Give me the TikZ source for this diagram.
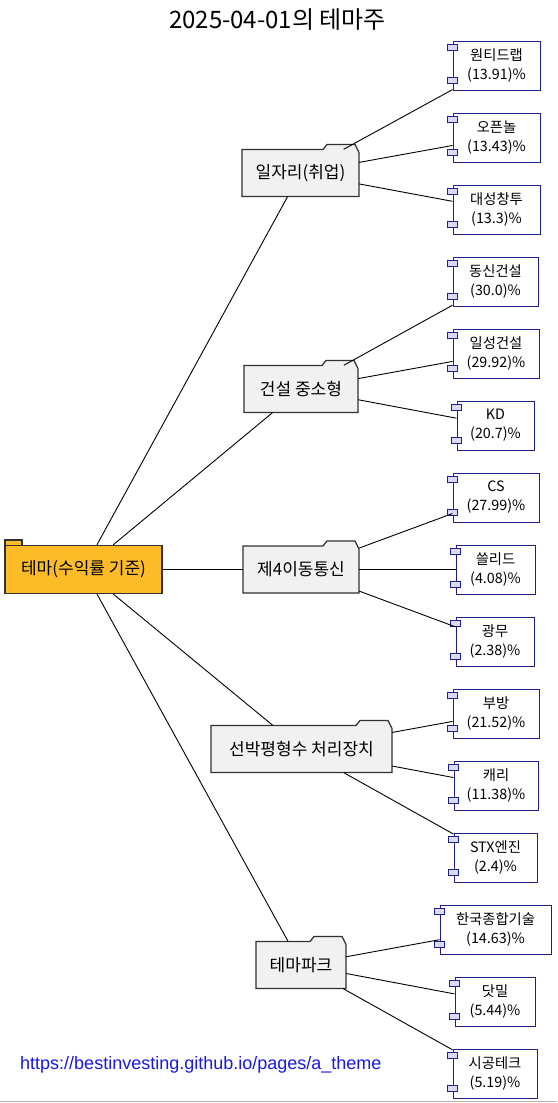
\documentclass[tikz,border=0pt]{standalone}
\usepackage{fontspec}
\setmainfont{Noto Sans CJK KR}
\newfontfamily\urlfont{Liberation Sans}
\definecolor{rootfill}{RGB}{251,188,40}
\definecolor{midfill}{RGB}{241,241,241}
\definecolor{midline}{RGB}{50,50,50}
\definecolor{leafline}{RGB}{30,30,140}
\definecolor{portfill}{RGB}{218,218,240}
\definecolor{urlblue}{RGB}{25,25,225}
\tikzset{
  folderline/.style={draw=midline, fill=midfill, line width=1.3pt, line join=miter},
  foldertext/.style={draw=none, inner sep=0pt, font=\fontsize{17}{20}\selectfont},
  rootbox/.style={draw=midline, fill=rootfill, line width=1.3pt, inner sep=0pt, minimum width=157pt, minimum height=48pt, font=\fontsize{17}{20}\selectfont},
  leaf/.style={draw=leafline, fill=white, line width=1pt, inner sep=0pt, minimum height=49pt, align=center, font=\fontsize{14.3}{19}\selectfont},
  port/.style={draw=leafline, fill=portfill, line width=1pt},
  link/.style={draw=black, line width=0.9pt},
  titletext/.style={font=\fontsize{24}{28}\selectfont, inner sep=0pt},
  urltext/.style={font=\urlfont\fontsize{18}{22}\selectfont, text=urlblue, inner sep=0pt, anchor=base west}
}
\newcommand\folderbox[6]{%
  \pgfmathsetmacro\fl{#2-#4/2}\pgfmathsetmacro\fr{#2+#4/2}%
  \pgfmathsetmacro\ft{#3-#5/2}\pgfmathsetmacro\fb{#3+#5/2}%
  \filldraw[folderline] (\fl,\fb) -- (\fl,\ft) -- (\fr-36,\ft) -- (\fr-32,\ft-5) -- (\fr-4,\ft-5) -- (\fr,\ft+3) -- (\fr,\fb) -- cycle;
  \node[foldertext, minimum width=#4pt, minimum height=#5pt] (#1) at (#2,#3) {#6};
}
\newcommand\leafbox[6]{%
  \node[leaf, minimum width=#4pt] (#1) at (#2,#3) {#5\\#6};
  \draw[port] ([xshift=-5pt,yshift=-4pt]#1.north west) rectangle ++(10pt,-6pt);
  \draw[port] ([xshift=-5pt,yshift=7pt]#1.south west) rectangle ++(10pt,6pt);
}
\begin{document}
\begin{tikzpicture}[x=1pt,y=-1pt]
\useasboundingbox (0,0) rectangle (557,1103);
\fill[white] (0,0) rectangle (557,1103);
\draw[gray!60, line width=1.5pt] (0,1101.5) -- (557,1101.5);

\node[titletext] (title) at (277.5,20) {2025-04-01의 테마주};

% root
\filldraw[draw=midline, fill=rootfill, line width=1.3pt] (5,545.5) rectangle (22,540);
\node[rootbox] (root) at (83.5,569.5) {테마(수익률 기준)};

% middle folders
\folderbox{m1}{300.5}{173}{117}{47}{일자리(취업)}
\folderbox{m2}{301}{389}{114}{47}{건설 중소형}
\folderbox{m3}{301}{569.5}{116}{47}{제4이동통신}
\folderbox{m4}{301.5}{749}{181}{47}{선박평형수 처리장치}
\folderbox{m5}{301}{965}{90}{47}{테마파크}

% leaves
\leafbox{l1}{496.5}{65.5}{87}{원티드랩}{(13.91)\%}
\leafbox{l2}{496.5}{137.5}{87}{오픈놀}{(13.43)\%}
\leafbox{l3}{496.5}{209.5}{87}{대성창투}{(13.3)\%}
\leafbox{l4}{495.5}{281.5}{85}{동신건설}{(30.0)\%}
\leafbox{l5}{496}{353.5}{86}{일성건설}{(29.92)\%}
\leafbox{l6}{495.5}{425.5}{77}{KD}{(20.7)\%}
\leafbox{l7}{496}{497.5}{86}{CS}{(27.99)\%}
\leafbox{l8}{495.5}{569.5}{79}{쓸리드}{(4.08)\%}
\leafbox{l9}{495}{641.5}{78}{광무}{(2.38)\%}
\leafbox{l10}{496}{713.5}{86}{부방}{(21.52)\%}
\leafbox{l11}{496}{785.5}{84}{캐리}{(11.38)\%}
\leafbox{l12}{495.5}{857.5}{83}{STX엔진}{(2.4)\%}
\leafbox{l13}{495.5}{929.5}{111}{한국종합기술}{(14.63)\%}
\leafbox{l14}{495}{1001.5}{80}{닷밀}{(5.44)\%}
\leafbox{l15}{495}{1073.5}{84}{시공테크}{(5.19)\%}

% connectors
\foreach \m in {m1,m2,m3,m4,m5} \draw[link] (root) -- (\m);
\draw[link] (m1) -- (l1); \draw[link] (m1) -- (l2); \draw[link] (m1) -- (l3);
\draw[link] (m2) -- (l4); \draw[link] (m2) -- (l5); \draw[link] (m2) -- (l6);
\draw[link] (m3) -- (l7); \draw[link] (m3) -- (l8); \draw[link] (m3) -- (l9);
\draw[link] (m4) -- (l10); \draw[link] (m4) -- (l11); \draw[link] (m4) -- (l12);
\draw[link] (m5) -- (l13); \draw[link] (m5) -- (l14); \draw[link] (m5) -- (l15);

\node[urltext] (url) at (20,1069) {https://bestinvesting.github.io/pages/a\_theme};
\end{tikzpicture}
\end{document}
